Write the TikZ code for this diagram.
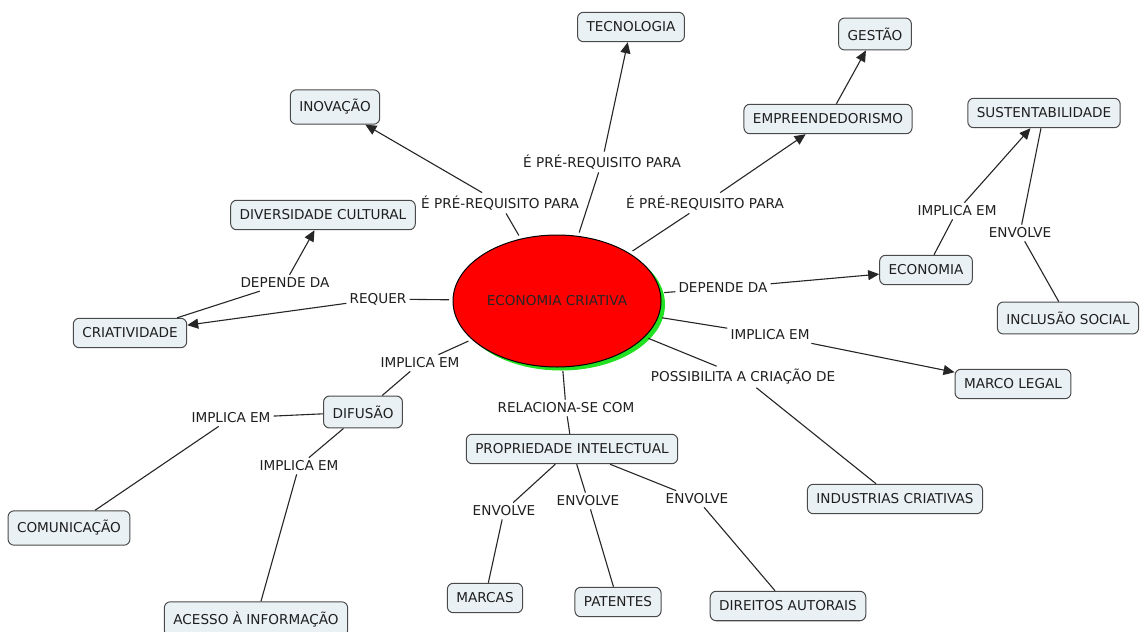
\documentclass[tikz,border=0pt]{standalone}
\usepackage{fontspec}
\setmainfont{DejaVu Sans}
\usepackage{tikz}
\usetikzlibrary{arrows.meta,positioning,shapes.geometric,shadows}
\usepackage{xcolor}
\definecolor{conceptfill}{HTML}{EAF1F4}
\definecolor{conceptline}{HTML}{4A4A4A}
\definecolor{corered}{HTML}{FF0000}
\definecolor{coregreen}{HTML}{22E022}
\newcommand{\mapfont}{\fontsize{13.6}{16}\selectfont}
\tikzset{
  concept/.style  = {draw=conceptline, fill=conceptfill, line width=1pt,
                     rounded corners=6pt, inner xsep=9pt, inner ysep=9.6pt,
                     text=black!88, font=\mapfont},
  linkword/.style = {inner sep=3pt, text=black!88, font=\mapfont},
  core/.style     = {ellipse, draw=black, fill=corered, line width=1pt,
                     minimum width=208pt, minimum height=132pt, inner sep=0pt,
                     outer sep=4pt, text=black!85, font=\mapfont,
                     drop shadow={fill=coregreen, opacity=1,
                                  shadow xshift=4pt, shadow yshift=-3.5pt}},
  conn/.style     = {line width=1.1pt, draw=black!85},
  sig/.style      = {conn, -{Triangle[length=11pt,width=10pt]}},
}

\begin{document}
\begin{tikzpicture}[x=1pt,y=-1pt]
\path[fill=white, use as bounding box] (0,0) rectangle (1144,632);
% ---- centre ----
\node[core] (ec) at (557,301) {ECONOMIA CRIATIVA};
% ---- concepts ----
\node[concept] (tec) at (631,27)  {TECNOLOGIA};
\node[concept] (ges) at (875,34)  {GESTÃO};
\node[concept] (emp) at (828,119) {EMPREENDEDORISMO};
\node[concept] (ino) at (335,107) {INOVAÇÃO};
\node[concept] (div) at (323,215) {DIVERSIDADE CULTURAL};
\node[concept] (cri) at (130,333) {CRIATIVIDADE};
\node[concept] (sus) at (1044,113) {SUSTENTABILIDADE};
\node[concept] (eco) at (926,270) {ECONOMIA};
\node[concept] (inc) at (1068,318) {INCLUSÃO SOCIAL};
\node[concept] (mar) at (1013,384) {MARCO LEGAL};
\node[concept] (ind) at (895,499) {INDUSTRIAS CRIATIVAS};
\node[concept] (pro) at (572,449) {PROPRIEDADE INTELECTUAL};
\node[concept] (mrc) at (485,598) {MARCAS};
\node[concept] (pat) at (618,602) {PATENTES};
\node[concept] (dir) at (788,606) {DIREITOS AUTORAIS};
\node[concept] (dif) at (363,412) {DIFUSÃO};
\node[concept] (com) at (69,528)  {COMUNICAÇÃO};
\node[concept] (ace) at (256,619) {ACESSO À INFORMAÇÃO};
% ---- linking words ----
\node[linkword] (lpre1) at (500,203) {É PRÉ-REQUISITO PARA};
\node[linkword] (lpre2) at (602,162) {É PRÉ-REQUISITO PARA};
\node[linkword] (lpre3) at (705,203) {É PRÉ-REQUISITO PARA};
\node[linkword] (lreq)  at (378,299) {REQUER};
\node[linkword] (ldep1) at (285,283) {DEPENDE DA};
\node[linkword] (ldep2) at (723,288) {DEPENDE DA};
\node[linkword] (limp1) at (957,211) {IMPLICA EM};
\node[linkword] (lenv1) at (1020,233) {ENVOLVE};
\node[linkword] (limp2) at (770,335) {IMPLICA EM};
\node[linkword] (lpos)  at (743,377) {POSSIBILITA A CRIAÇÃO DE};
\node[linkword] (lrel)  at (566,408) {RELACIONA-SE COM};
\node[linkword] (limp3) at (420,363) {IMPLICA EM};
\node[linkword] (limp4) at (231,418) {IMPLICA EM};
\node[linkword] (limp5) at (299,466) {IMPLICA EM};
\node[linkword] (lenv2) at (504,511) {ENVOLVE};
\node[linkword] (lenv3) at (588,501) {ENVOLVE};
\node[linkword] (lenv4) at (697,499) {ENVOLVE};
% ---- links ----
\draw[conn] (ec) -- (lpre1); \draw[sig] (lpre1) -- (ino);
\draw[conn] (ec) -- (lpre2); \draw[sig] (lpre2) -- (tec);
\draw[conn] (ec) -- (lpre3); \draw[sig] (lpre3) -- (emp);
\draw[sig] (emp) -- (ges);
\draw[conn] (ec) -- (lreq);  \draw[sig] (lreq) -- (cri);
\draw[conn] (cri) -- (ldep1); \draw[sig] (ldep1) -- (div);
\draw[conn] (ec) -- (ldep2); \draw[sig] (ldep2) -- (eco);
\draw[conn] (eco) -- (limp1); \draw[sig] (limp1) -- (sus);
\draw[conn] (sus) -- (lenv1); \draw[conn] (lenv1) -- (inc);
\draw[conn] (ec) -- (limp2); \draw[sig] (limp2) -- (mar);
\draw[conn] (ec) -- (lpos);  \draw[conn] (lpos) -- (ind);
\draw[conn] (ec) -- (lrel);  \draw[conn] (lrel) -- (pro);
\draw[conn] (ec) -- (limp3); \draw[conn] (limp3) -- (dif);
\draw[conn] (dif) -- (limp4); \draw[conn] (limp4) -- (com);
\draw[conn] (dif) -- (limp5); \draw[conn] (limp5) -- (ace);
\draw[conn] (pro) -- (lenv2); \draw[conn] (lenv2) -- (mrc);
\draw[conn] (pro) -- (lenv3); \draw[conn] (lenv3) -- (pat);
\draw[conn] (pro) -- (lenv4); \draw[conn] (lenv4) -- (dir);
\end{tikzpicture}
\end{document}
